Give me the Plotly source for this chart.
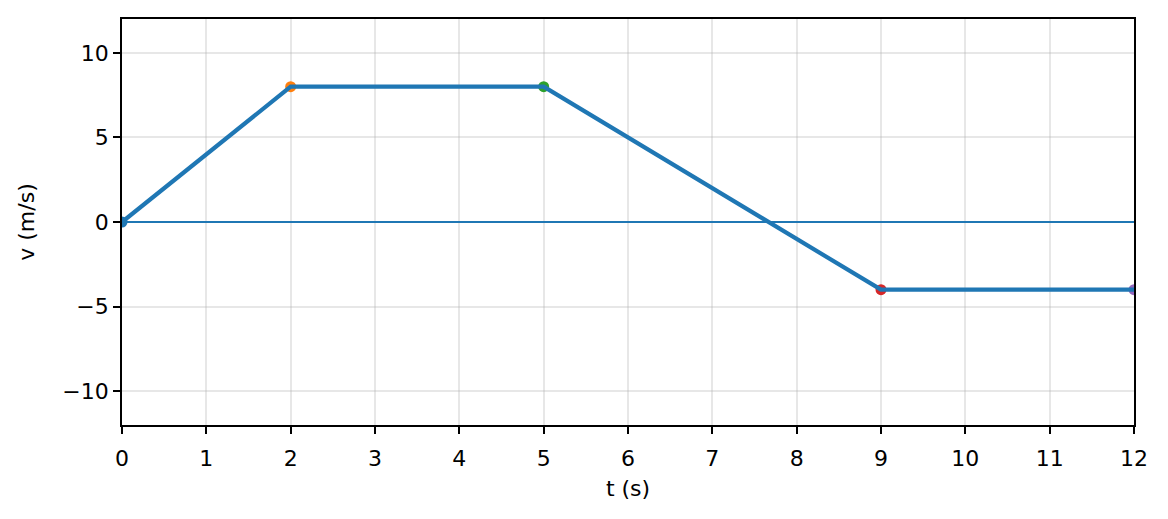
import plotly.graph_objects as go

t_pts = [0, 2, 5, 9, 12]
v_pts = [0, 8, 8, -4, -4]
pt_colors = ["#1f77b4", "#ff7f0e", "#2ca02c", "#d62728", "#9467bd"]
x_ticks = list(range(0, 13))
y_ticks = [-10, -5, 0, 5, 10]

fig = go.Figure()
for t, v, c in zip(t_pts, v_pts, pt_colors):
    fig.add_trace(go.Scatter(x=[t], y=[v], mode="markers",
                             marker=dict(color=c, size=11), showlegend=False))
fig.add_trace(go.Scatter(x=[0, 12], y=[0, 0], mode="lines",
                         line=dict(color="#1f77b4", width=2), showlegend=False))
fig.add_trace(go.Scatter(x=t_pts, y=v_pts, mode="lines",
                         line=dict(color="#1f77b4", width=4.2), showlegend=False))

axis_common = dict(showline=True, linecolor="black", linewidth=1.7, mirror=True,
                   ticks="outside", ticklen=7, tickwidth=1.7, tickcolor="black",
                   showgrid=True, gridcolor="rgba(176,176,176,0.3)", gridwidth=1.7,
                   zeroline=False, tickfont=dict(size=22, color="black"),
                   title_font=dict(size=22, color="black"))
fig.update_xaxes(range=[0, 12], tickvals=x_ticks, title_text="t (s)", title_standoff=10,
                 ticklabelstandoff=6, **axis_common)
fig.update_yaxes(range=[-12, 12], tickvals=y_ticks, title_text="v (m/s)", title_standoff=22,
                 **axis_common)

fig.update_layout(width=1160, height=511, margin=dict(l=114, r=34, t=9, b=94),
                  plot_bgcolor="white", paper_bgcolor="white",
                  font=dict(family="DejaVu Sans", color="black"))
fig.write_html("out.html")
